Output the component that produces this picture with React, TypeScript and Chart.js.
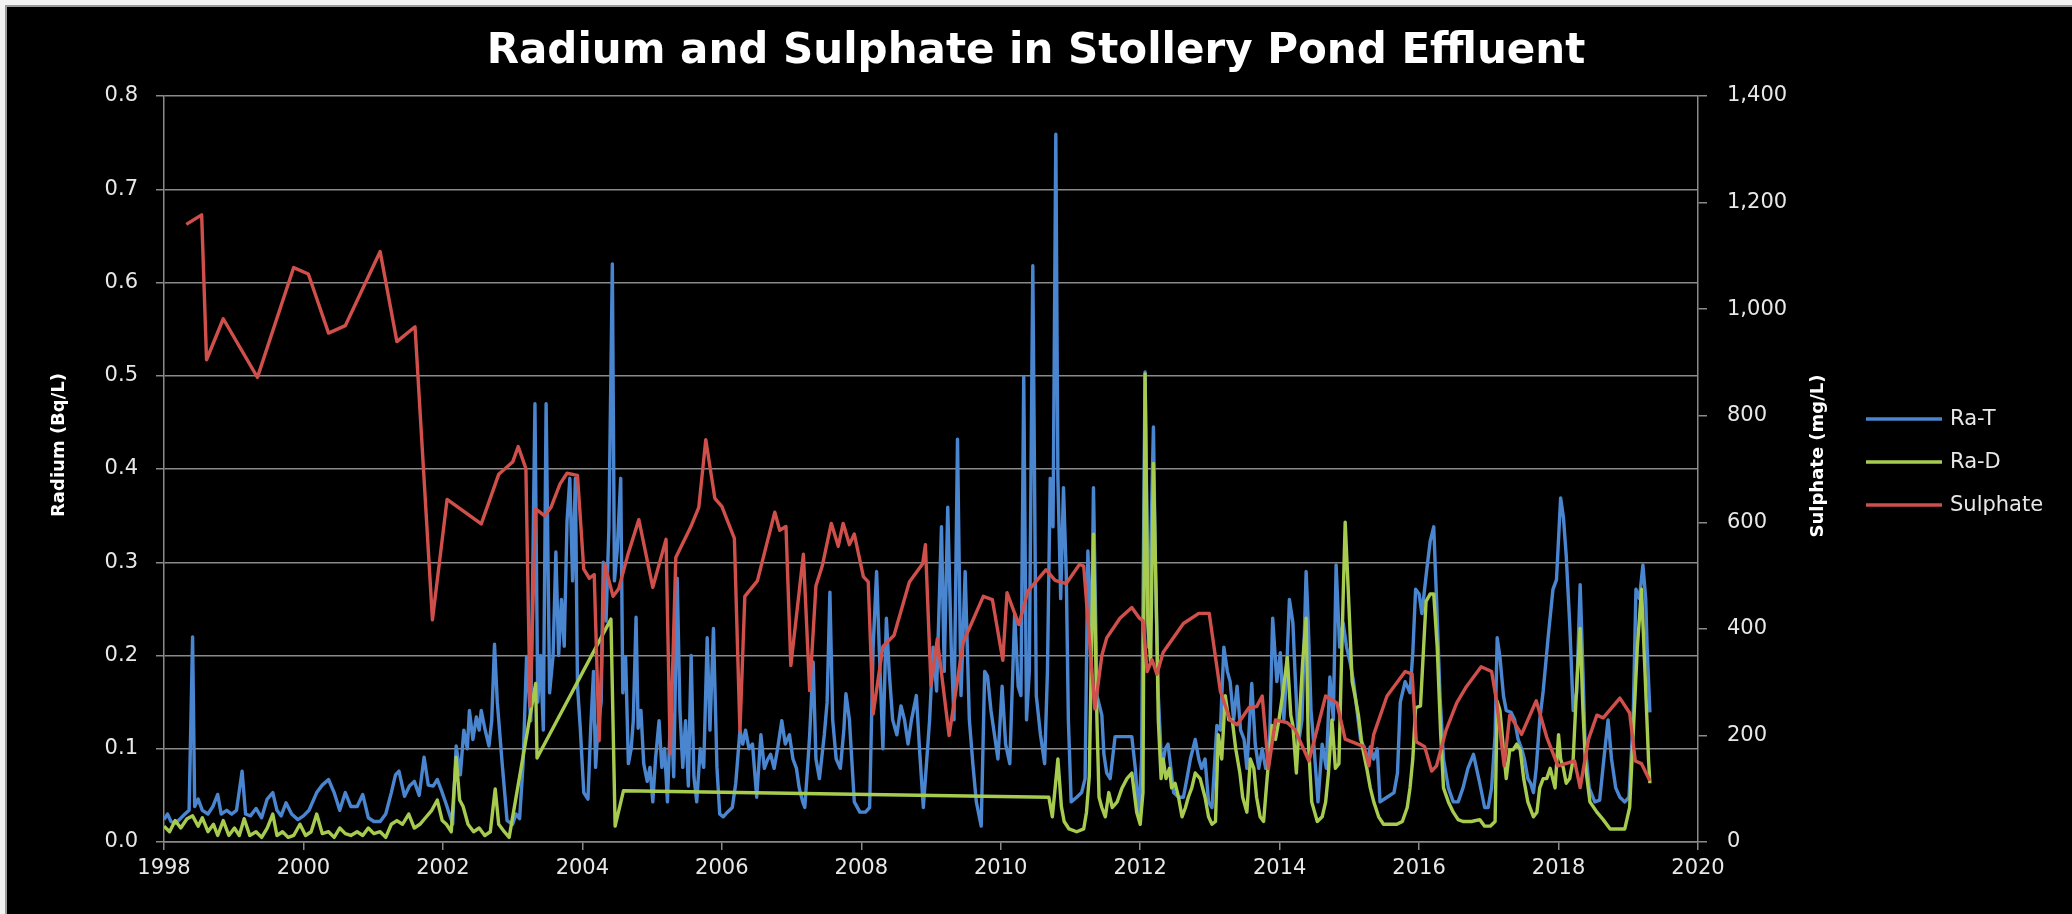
import React, { useEffect, useRef } from 'react';
import { Chart, registerables } from 'chart.js';

Chart.register(...registerables);

// ---- Data (decimal years) ----
const raTYears = [
  1998.00, 1998.05, 1998.10, 1998.16, 1998.22, 1998.30, 1998.36, 1998.41, 1998.44, 1998.49,
  1998.55, 1998.63, 1998.70, 1998.77, 1998.82, 1998.90, 1998.97, 1999.04, 1999.12, 1999.17,
  1999.24, 1999.32, 1999.40, 1999.48, 1999.56, 1999.62, 1999.68, 1999.75, 1999.83, 1999.92,
  2000.00, 2000.08, 2000.19, 2000.27, 2000.36, 2000.44, 2000.52, 2000.60, 2000.68, 2000.77,
  2000.85, 2000.93, 2001.01, 2001.10, 2001.18, 2001.26, 2001.32, 2001.37, 2001.45, 2001.52,
  2001.59, 2001.66, 2001.73, 2001.79, 2001.86, 2001.92, 2001.98, 2002.05, 2002.14, 2002.19,
  2002.25, 2002.30, 2002.35, 2002.38, 2002.43, 2002.48, 2002.52, 2002.55, 2002.60, 2002.66,
  2002.70, 2002.74, 2002.78, 2002.85, 2002.92, 2003.00, 2003.05, 2003.10, 2003.15, 2003.20,
  2003.26, 2003.32, 2003.36, 2003.40, 2003.44, 2003.48, 2003.53, 2003.58, 2003.62, 2003.66,
  2003.70, 2003.74, 2003.78, 2003.82, 2003.86, 2003.90, 2003.93, 2003.97, 2004.02, 2004.08,
  2004.12, 2004.16, 2004.19, 2004.22, 2004.27, 2004.30, 2004.34, 2004.38, 2004.43, 2004.46,
  2004.50, 2004.55, 2004.58, 2004.62, 2004.66, 2004.70, 2004.73, 2004.77, 2004.80, 2004.84,
  2004.88, 2004.93, 2004.97, 2005.01, 2005.05, 2005.10, 2005.14, 2005.18, 2005.22, 2005.27,
  2005.31, 2005.36, 2005.40, 2005.44, 2005.48, 2005.52, 2005.56, 2005.60, 2005.64, 2005.69,
  2005.74, 2005.79, 2005.83, 2005.88, 2005.93, 2005.97, 2006.02, 2006.08, 2006.15, 2006.20,
  2006.26, 2006.30, 2006.34, 2006.39, 2006.44, 2006.50, 2006.56, 2006.61, 2006.66, 2006.70,
  2006.75, 2006.80, 2006.86, 2006.91, 2006.97, 2007.02, 2007.07, 2007.11, 2007.16, 2007.19,
  2007.23, 2007.26, 2007.31, 2007.35, 2007.40, 2007.47, 2007.51, 2007.55, 2007.59, 2007.64,
  2007.70, 2007.75, 2007.78, 2007.83, 2007.90, 2007.98, 2008.06, 2008.12, 2008.17, 2008.22,
  2008.26, 2008.31, 2008.36, 2008.40, 2008.45, 2008.51, 2008.57, 2008.62, 2008.67, 2008.72,
  2008.79, 2008.84, 2008.89, 2008.94, 2008.98, 2009.03, 2009.08, 2009.15, 2009.19, 2009.24,
  2009.29, 2009.33, 2009.38, 2009.43, 2009.49, 2009.55, 2009.60, 2009.65, 2009.72, 2009.77,
  2009.81, 2009.86, 2009.91, 2009.96, 2010.02, 2010.07, 2010.13, 2010.20, 2010.25, 2010.29,
  2010.33, 2010.37, 2010.41, 2010.46, 2010.51, 2010.57, 2010.63, 2010.67, 2010.71, 2010.75,
  2010.79, 2010.82, 2010.86, 2010.90, 2010.94, 2010.97, 2011.01, 2011.09, 2011.16, 2011.21,
  2011.25, 2011.30, 2011.33, 2011.38, 2011.45, 2011.48, 2011.52, 2011.57, 2011.64, 2011.76,
  2011.88, 2011.93, 2011.98, 2012.02, 2012.07, 2012.12, 2012.19, 2012.22, 2012.26, 2012.31,
  2012.36, 2012.40, 2012.44, 2012.48, 2012.55, 2012.62, 2012.67, 2012.72, 2012.79, 2012.84,
  2012.88, 2012.93, 2012.98, 2013.03, 2013.10, 2013.15, 2013.20, 2013.25, 2013.29, 2013.34,
  2013.39, 2013.44, 2013.49, 2013.53, 2013.60, 2013.65, 2013.70, 2013.75, 2013.80, 2013.85,
  2013.90, 2013.96, 2014.01, 2014.06, 2014.10, 2014.14, 2014.19, 2014.22, 2014.27, 2014.32,
  2014.38, 2014.41, 2014.45, 2014.49, 2014.55, 2014.61, 2014.67, 2014.72, 2014.77, 2014.81,
  2014.86, 2014.91, 2014.96, 2015.01, 2015.06, 2015.11, 2015.16, 2015.21, 2015.25, 2015.30,
  2015.35, 2015.40, 2015.44, 2015.54, 2015.64, 2015.69, 2015.73, 2015.80, 2015.87, 2015.91,
  2015.95, 2016.00, 2016.04, 2016.11, 2016.16, 2016.21, 2016.25, 2016.30, 2016.35, 2016.42,
  2016.49, 2016.56, 2016.63, 2016.70, 2016.78, 2016.87, 2016.94, 2016.99, 2017.04, 2017.09,
  2017.12, 2017.16, 2017.21, 2017.25, 2017.32, 2017.37, 2017.42, 2017.47, 2017.51, 2017.56,
  2017.60, 2017.64, 2017.68, 2017.73, 2017.78, 2017.85, 2017.92, 2017.97, 2018.03, 2018.07,
  2018.11, 2018.16, 2018.21, 2018.26, 2018.31, 2018.35, 2018.38, 2018.44, 2018.52, 2018.59,
  2018.65, 2018.71, 2018.76, 2018.82, 2018.88, 2018.95, 2019.01, 2019.07, 2019.11, 2019.16,
  2019.21, 2019.25, 2019.27, 2019.31,
];
const raTValues = [
  0.024, 0.030, 0.022, 0.020, 0.024, 0.030, 0.034, 0.220, 0.038, 0.046,
  0.034, 0.030, 0.038, 0.051, 0.030, 0.034, 0.030, 0.034, 0.076, 0.030,
  0.028, 0.036, 0.026, 0.046, 0.053, 0.034, 0.028, 0.042, 0.030, 0.024,
  0.028, 0.034, 0.053, 0.061, 0.067, 0.053, 0.034, 0.053, 0.038, 0.038,
  0.051, 0.026, 0.022, 0.022, 0.030, 0.053, 0.072, 0.076, 0.049, 0.060,
  0.065, 0.050, 0.091, 0.061, 0.060, 0.067, 0.055, 0.040, 0.019, 0.103,
  0.072, 0.120, 0.100, 0.141, 0.110, 0.134, 0.120, 0.141, 0.122, 0.103,
  0.130, 0.212, 0.150, 0.084, 0.023, 0.019, 0.030, 0.025, 0.084, 0.199,
  0.130, 0.470, 0.150, 0.200, 0.120, 0.470, 0.160, 0.200, 0.311, 0.200,
  0.260, 0.210, 0.344, 0.390, 0.280, 0.390, 0.168, 0.122, 0.053, 0.046,
  0.122, 0.183, 0.080, 0.120, 0.150, 0.300, 0.237, 0.336, 0.620, 0.280,
  0.313, 0.390, 0.160, 0.199, 0.084, 0.100, 0.130, 0.241, 0.122, 0.141,
  0.084, 0.065, 0.080, 0.043, 0.090, 0.130, 0.080, 0.100, 0.043, 0.150,
  0.070, 0.283, 0.140, 0.080, 0.130, 0.060, 0.200, 0.070, 0.043, 0.100,
  0.080, 0.219, 0.120, 0.229, 0.080, 0.030, 0.027, 0.032, 0.037, 0.063,
  0.120, 0.105, 0.120, 0.100, 0.105, 0.048, 0.115, 0.079, 0.089, 0.094,
  0.079, 0.100, 0.130, 0.105, 0.115, 0.089, 0.079, 0.058, 0.043, 0.037,
  0.080, 0.115, 0.193, 0.089, 0.068, 0.115, 0.150, 0.268, 0.131, 0.089,
  0.079, 0.120, 0.159, 0.131, 0.043, 0.032, 0.032, 0.037, 0.209, 0.290,
  0.203, 0.100, 0.240, 0.183, 0.131, 0.115, 0.146, 0.131, 0.105, 0.131,
  0.157, 0.094, 0.037, 0.089, 0.131, 0.209, 0.162, 0.338, 0.183, 0.359,
  0.209, 0.131, 0.432, 0.157, 0.290, 0.131, 0.084, 0.043, 0.017, 0.183,
  0.178, 0.141, 0.115, 0.089, 0.167, 0.105, 0.084, 0.245, 0.167, 0.157,
  0.499, 0.131, 0.183, 0.618, 0.157, 0.115, 0.084, 0.183, 0.390, 0.338,
  0.759, 0.390, 0.261, 0.380, 0.287, 0.131, 0.043, 0.048, 0.053, 0.068,
  0.312, 0.200, 0.380, 0.157, 0.136, 0.094, 0.074, 0.068, 0.113, 0.113,
  0.113, 0.079, 0.027, 0.089, 0.504, 0.209, 0.445, 0.287, 0.157, 0.079,
  0.100, 0.105, 0.079, 0.053, 0.048, 0.048, 0.068, 0.089, 0.110, 0.089,
  0.079, 0.089, 0.043, 0.037, 0.125, 0.120, 0.209, 0.183, 0.172, 0.131,
  0.167, 0.120, 0.110, 0.079, 0.170, 0.105, 0.079, 0.100, 0.079, 0.089,
  0.240, 0.172, 0.203, 0.131, 0.183, 0.260, 0.235, 0.183, 0.105, 0.131,
  0.290, 0.235, 0.141, 0.105, 0.043, 0.105, 0.079, 0.177, 0.131, 0.297,
  0.209, 0.235, 0.209, 0.193, 0.172, 0.141, 0.110, 0.102, 0.084, 0.102,
  0.089, 0.100, 0.043, 0.048, 0.053, 0.074, 0.150, 0.172, 0.160, 0.203,
  0.271, 0.266, 0.245, 0.292, 0.323, 0.338, 0.261, 0.157, 0.089, 0.058,
  0.043, 0.043, 0.058, 0.079, 0.094, 0.063, 0.037, 0.037, 0.058, 0.115,
  0.219, 0.198, 0.157, 0.141, 0.139, 0.131, 0.110, 0.100, 0.089, 0.068,
  0.063, 0.053, 0.079, 0.131, 0.162, 0.219, 0.271, 0.281, 0.369, 0.348,
  0.307, 0.234, 0.141, 0.160, 0.276, 0.183, 0.105, 0.058, 0.043, 0.045,
  0.089, 0.131, 0.089, 0.058, 0.048, 0.043, 0.048, 0.131, 0.271, 0.261,
  0.297, 0.261, 0.209, 0.139,
];

const raDYears = [
  1998.00, 1998.08, 1998.16, 1998.24, 1998.33, 1998.41, 1998.49, 1998.55, 1998.63, 1998.71,
  1998.77, 1998.85, 1998.93, 1999.01, 1999.08, 1999.15, 1999.23, 1999.32, 1999.40, 1999.48,
  1999.56, 1999.62, 1999.70, 1999.78, 1999.86, 1999.95, 2000.03, 2000.11, 2000.19, 2000.27,
  2000.36, 2000.44, 2000.52, 2000.60, 2000.68, 2000.77, 2000.85, 2000.93, 2001.01, 2001.10,
  2001.18, 2001.26, 2001.34, 2001.42, 2001.51, 2001.59, 2001.67, 2001.75, 2001.84, 2001.92,
  2001.99, 2002.05, 2002.12, 2002.19, 2002.24, 2002.29, 2002.36, 2002.44, 2002.52, 2002.60,
  2002.68, 2002.75, 2002.80, 2002.88, 2002.95, 2003.33, 2003.35, 2004.41, 2004.47, 2004.59,
  2010.69, 2010.74, 2010.82, 2010.87, 2010.91, 2010.98, 2011.09, 2011.19, 2011.23, 2011.27,
  2011.33, 2011.38, 2011.41, 2011.45, 2011.50, 2011.55, 2011.60, 2011.67, 2011.74, 2011.81,
  2011.88, 2011.95, 2012.00, 2012.04, 2012.07, 2012.11, 2012.15, 2012.19, 2012.23, 2012.26,
  2012.30, 2012.33, 2012.37, 2012.42, 2012.45, 2012.50, 2012.55, 2012.60, 2012.65, 2012.69,
  2012.74, 2012.79, 2012.86, 2012.93, 2012.98, 2013.03, 2013.08, 2013.12, 2013.17, 2013.22,
  2013.27, 2013.32, 2013.37, 2013.43, 2013.47, 2013.53, 2013.58, 2013.63, 2013.67, 2013.72,
  2013.77, 2013.82, 2013.89, 2013.94, 2013.99, 2014.05, 2014.11, 2014.16, 2014.19, 2014.24,
  2014.29, 2014.33, 2014.38, 2014.41, 2014.46, 2014.54, 2014.61, 2014.66, 2014.70, 2014.75,
  2014.80, 2014.85, 2014.91, 2014.94, 2014.99, 2015.04, 2015.08, 2015.13, 2015.18, 2015.25,
  2015.30, 2015.35, 2015.42, 2015.49, 2015.59, 2015.68, 2015.76, 2015.83, 2015.87, 2015.91,
  2015.95, 2016.02, 2016.10, 2016.16, 2016.21, 2016.26, 2016.31, 2016.35, 2016.42, 2016.49,
  2016.56, 2016.63, 2016.75, 2016.87, 2016.94, 2017.02, 2017.09, 2017.12, 2017.16, 2017.21,
  2017.25, 2017.30, 2017.35, 2017.40, 2017.45, 2017.50, 2017.56, 2017.64, 2017.69, 2017.73,
  2017.78, 2017.83, 2017.88, 2017.95, 2018.00, 2018.03, 2018.07, 2018.11, 2018.16, 2018.21,
  2018.26, 2018.31, 2018.35, 2018.39, 2018.45, 2018.55, 2018.64, 2018.74, 2018.85, 2018.95,
  2019.02, 2019.07, 2019.13, 2019.19, 2019.24, 2019.29, 2019.31,
];
const raDValues = [
  0.017, 0.011, 0.023, 0.015, 0.025, 0.028, 0.017, 0.026, 0.011, 0.019,
  0.007, 0.023, 0.007, 0.015, 0.007, 0.025, 0.007, 0.011, 0.005, 0.015,
  0.030, 0.007, 0.011, 0.005, 0.007, 0.019, 0.007, 0.011, 0.030, 0.009,
  0.011, 0.005, 0.015, 0.009, 0.007, 0.011, 0.007, 0.015, 0.009, 0.011,
  0.005, 0.019, 0.023, 0.019, 0.030, 0.015, 0.019, 0.026, 0.034, 0.045,
  0.023, 0.019, 0.011, 0.091, 0.045, 0.038, 0.019, 0.011, 0.015, 0.007,
  0.011, 0.057, 0.019, 0.011, 0.005, 0.170, 0.090, 0.239, 0.017, 0.055,
  0.048, 0.027, 0.089, 0.038, 0.022, 0.014, 0.011, 0.014, 0.032, 0.070,
  0.330, 0.130, 0.048, 0.037, 0.027, 0.053, 0.037, 0.043, 0.058, 0.068,
  0.074, 0.032, 0.019, 0.053, 0.502, 0.235, 0.193, 0.406, 0.260, 0.131,
  0.068, 0.089, 0.068, 0.079, 0.058, 0.063, 0.048, 0.027, 0.037, 0.048,
  0.058, 0.074, 0.068, 0.048, 0.027, 0.019, 0.022, 0.115, 0.089, 0.157,
  0.131, 0.131, 0.100, 0.074, 0.048, 0.032, 0.089, 0.079, 0.048, 0.027,
  0.022, 0.068, 0.125, 0.110, 0.131, 0.162, 0.198, 0.136, 0.125, 0.074,
  0.141, 0.193, 0.240, 0.110, 0.043, 0.022, 0.027, 0.043, 0.074, 0.131,
  0.079, 0.084, 0.260, 0.343, 0.260, 0.172, 0.157, 0.136, 0.105, 0.079,
  0.058, 0.043, 0.027, 0.019, 0.019, 0.019, 0.022, 0.037, 0.058, 0.089,
  0.144, 0.146, 0.258, 0.266, 0.266, 0.209, 0.115, 0.058, 0.043, 0.032,
  0.024, 0.022, 0.022, 0.024, 0.017, 0.017, 0.022, 0.151, 0.141, 0.099,
  0.068, 0.099, 0.099, 0.105, 0.099, 0.068, 0.043, 0.027, 0.032, 0.058,
  0.068, 0.068, 0.079, 0.058, 0.115, 0.089, 0.079, 0.063, 0.068, 0.089,
  0.167, 0.229, 0.141, 0.079, 0.043, 0.032, 0.024, 0.014, 0.014, 0.014,
  0.037, 0.115, 0.209, 0.271, 0.182, 0.089, 0.063,
];

const sulphateYears = [
  1998.32, 1998.54, 1998.61, 1998.85, 1999.34, 1999.86, 2000.07, 2000.36, 2000.60, 2001.10,
  2001.34, 2001.60, 2001.85, 2002.06, 2002.55, 2002.80, 2003.00, 2003.08, 2003.19, 2003.25,
  2003.33, 2003.46, 2003.55, 2003.68, 2003.78, 2003.93, 2004.02, 2004.10, 2004.17, 2004.24,
  2004.32, 2004.44, 2004.52, 2004.65, 2004.81, 2005.01, 2005.20, 2005.26, 2005.34, 2005.55,
  2005.67, 2005.77, 2005.90, 2006.00, 2006.18, 2006.26, 2006.33, 2006.51, 2006.76, 2006.83,
  2006.92, 2006.99, 2007.17, 2007.26, 2007.35, 2007.44, 2007.57, 2007.67, 2007.74, 2007.83,
  2007.90, 2008.03, 2008.10, 2008.17, 2008.31, 2008.47, 2008.69, 2008.88, 2008.92, 2009.00,
  2009.09, 2009.26, 2009.46, 2009.75, 2009.88, 2010.03, 2010.09, 2010.26, 2010.39, 2010.65,
  2010.78, 2010.94, 2011.13, 2011.19, 2011.35, 2011.45, 2011.52, 2011.71, 2011.88, 2011.99,
  2012.04, 2012.10, 2012.17, 2012.24, 2012.33, 2012.62, 2012.84, 2012.99, 2013.15, 2013.29,
  2013.39, 2013.56, 2013.67, 2013.75, 2013.84, 2013.94, 2014.11, 2014.22, 2014.42, 2014.66,
  2014.82, 2014.94, 2015.21, 2015.28, 2015.35, 2015.54, 2015.80, 2015.90, 2015.96, 2016.08,
  2016.18, 2016.25, 2016.39, 2016.54, 2016.68, 2016.89, 2017.04, 2017.11, 2017.22, 2017.30,
  2017.47, 2017.68, 2017.83, 2017.99, 2018.23, 2018.31, 2018.43, 2018.55, 2018.64, 2018.88,
  2019.02, 2019.10, 2019.19, 2019.31,
];
const sulphateValues = [
  1159, 1177, 905, 982, 872, 1078, 1066, 955, 969, 1108,
  939, 967, 417, 643, 597, 690, 713, 742, 701, 255,
  625, 612, 628, 672, 692, 688, 512, 495, 502, 190,
  522, 461, 475, 538, 605, 478, 568, 166, 534, 590,
  628, 755, 645, 630, 570, 208, 461, 490, 619, 585,
  592, 331, 540, 284, 481, 518, 598, 555, 598, 558,
  578, 498, 488, 240, 367, 388, 488, 522, 558, 294,
  381, 200, 374, 461, 455, 341, 468, 408, 471, 511,
  491, 485, 521, 518, 250, 350, 383, 420, 440, 420,
  415, 320, 342, 315, 356, 410, 429, 429, 283, 229,
  220, 252, 254, 274, 138, 229, 224, 211, 152, 274,
  261, 193, 179, 143, 202, 274, 320, 315, 188, 179,
  133, 143, 211, 261, 292, 329, 320, 265, 143, 238,
  202, 265, 197, 143, 152, 102, 193, 238, 233, 270,
  242, 152, 147, 115,
];

const xTickYears = { min: 1998, max: 2020, step: 2 };
const radiumAxis = { min: 0, max: 0.8, step: 0.1 };
const sulphateAxis = { min: 0, max: 1400, step: 200 };
const seriesNames = ['Ra-T', 'Ra-D', 'Sulphate'];
const seriesColors = ['#4A86CF', '#A6CB4F', '#CF4F4B'];

const W = 2072;
const H = 914;
const PLOT_LEFT = 164;
const PLOT_RIGHT = 1698;
const PLOT_TOP = 96;
const PLOT_BOTTOM = 842;
const RIGHT_EDGE = 1850;
const FONT = '"DejaVu Sans", "Open Sans", sans-serif';
const TEXT = '#E8E8E8';
const GRID = '#8A8A8A';

function pts(xs: number[], ys: number[]) {
  return xs.map((x, i) => ({ x, y: ys[i] }));
}

export default function App() {
  const ref = useRef<HTMLCanvasElement | null>(null);

  useEffect(() => {
    document.body.style.margin = '0';
    const canvas = ref.current;
    if (!canvas) return;

    const overlay = {
      id: 'overlay',
      beforeDraw(chart: any) {
        const ctx = chart.ctx;
        ctx.save();
        ctx.fillStyle = '#f2f2f2';
        ctx.fillRect(0, 0, W, H);
        ctx.fillStyle = '#000';
        ctx.fillRect(6, 6, W - 6, H - 6);
        ctx.strokeStyle = '#9a9a9a';
        ctx.lineWidth = 2;
        ctx.strokeRect(6, 6, W + 10, H + 10);
        ctx.restore();
      },
      afterDraw(chart: any) {
        const ctx = chart.ctx;
        ctx.save();
        // main title
        ctx.fillStyle = '#FFFFFF';
        ctx.font = 'bold 42px ' + FONT;
        ctx.textAlign = 'center';
        ctx.textBaseline = 'alphabetic';
        ctx.fillText('Radium and Sulphate in Stollery Pond Effluent', 1036, 63);

        // axis titles
        ctx.font = 'bold 18px ' + FONT;
        ctx.textBaseline = 'middle';
        ctx.save();
        ctx.translate(59, 445);
        ctx.rotate(-Math.PI / 2);
        ctx.fillText('Radium (Bq/L)', 0, 0);
        ctx.restore();
        ctx.save();
        ctx.translate(1818, 456);
        ctx.rotate(-Math.PI / 2);
        ctx.fillText('Sulphate (mg/L)', 0, 0);
        ctx.restore();

        // legend
        const ys = [419, 462, 505];
        ctx.font = '21px ' + FONT;
        ctx.textAlign = 'left';
        seriesNames.forEach((name, i) => {
          ctx.strokeStyle = seriesColors[i];
          ctx.lineWidth = 3.5;
          ctx.beginPath();
          ctx.moveTo(1866, ys[i]);
          ctx.lineTo(1942, ys[i]);
          ctx.stroke();
          ctx.fillStyle = TEXT;
          ctx.fillText(name, 1950, ys[i] + 1);
        });
        ctx.restore();
      },
    };

    const common = { pointRadius: 0, borderWidth: 3.4, tension: 0, fill: false, borderJoinStyle: 'round' as const };

    const chart = new Chart(canvas, {
      type: 'line',
      data: {
        datasets: [
          { ...common, label: seriesNames[0], data: pts(raTYears, raTValues), borderColor: seriesColors[0], backgroundColor: seriesColors[0], yAxisID: 'y', order: 3 },
          { ...common, label: seriesNames[1], data: pts(raDYears, raDValues), borderColor: seriesColors[1], backgroundColor: seriesColors[1], yAxisID: 'y', order: 2 },
          { ...common, label: seriesNames[2], data: pts(sulphateYears, sulphateValues), borderColor: seriesColors[2], backgroundColor: seriesColors[2], yAxisID: 'y1', order: 1 },
        ],
      },
      options: {
        responsive: false,
        animation: false,
        devicePixelRatio: 1,
        layout: { padding: { left: 0, right: W - RIGHT_EDGE, top: PLOT_TOP, bottom: 0 } },
        plugins: {
          legend: { display: false },
          title: { display: false },
          tooltip: { enabled: false },
        },
        scales: {
          x: {
            type: 'linear',
            position: 'bottom',
            min: xTickYears.min,
            max: xTickYears.max,
            ticks: {
              stepSize: xTickYears.step,
              callback: (v: any) => String(v),
              color: TEXT,
              font: { family: FONT, size: 21 },
              padding: 6,
              maxRotation: 0,
            },
            grid: { drawOnChartArea: false, drawTicks: true, tickLength: 8, color: GRID, tickColor: GRID, lineWidth: 1.5 },
            border: { color: GRID, width: 1.5 },
            afterFit: (s: any) => { s.height = H - PLOT_BOTTOM; },
          },
          y: {
            type: 'linear',
            position: 'left',
            min: radiumAxis.min,
            max: radiumAxis.max,
            ticks: {
              stepSize: radiumAxis.step,
              callback: (v: any) => Number(v).toFixed(1),
              color: TEXT,
              font: { family: FONT, size: 21 },
              padding: 18,
            },
            grid: { drawOnChartArea: true, drawTicks: true, tickLength: 8, color: GRID, tickColor: GRID, lineWidth: 1.5 },
            border: { color: GRID, width: 1.5 },
            afterFit: (s: any) => { s.width = PLOT_LEFT; },
          },
          y1: {
            type: 'linear',
            position: 'right',
            min: sulphateAxis.min,
            max: sulphateAxis.max,
            ticks: {
              stepSize: sulphateAxis.step,
              callback: (v: any) => Number(v).toLocaleString('en-US'),
              color: TEXT,
              font: { family: FONT, size: 21 },
              padding: 20,
            },
            grid: { drawOnChartArea: false, drawTicks: true, tickLength: 9, color: GRID, tickColor: GRID, lineWidth: 1.5 },
            border: { color: GRID, width: 1.5 },
            afterFit: (s: any) => { s.width = RIGHT_EDGE - PLOT_RIGHT; },
          },
        },
      },
      plugins: [overlay],
    });

    return () => chart.destroy();
  }, []);

  return (
    <canvas
      ref={ref}
      width={W}
      height={H}
      style={{ position: 'fixed', left: 0, top: 0, width: W, height: H, display: 'block' }}
    />
  );
}
